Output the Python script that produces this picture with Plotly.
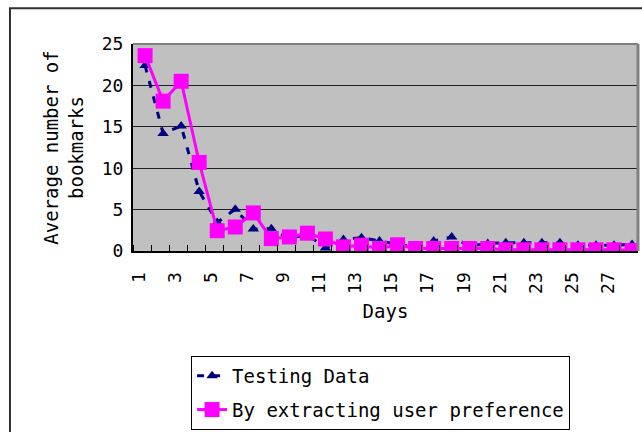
import plotly.graph_objects as go

days = list(range(1, 29))
testing_data = [22.4, 14.2, 15.1, 7.2, 3.45, 5.05, 2.65, 2.7, 1.5, 2.0,
                0.35, 1.4, 1.6, 1.2, 0.8, 0.5, 1.2, 1.7, 0.6, 0.9,
                1.0, 1.0, 1.0, 1.0, 0.7, 0.7, 0.7, 0.8]
user_pref = [23.6, 18.1, 20.5, 10.7, 2.45, 2.9, 4.6, 1.5, 1.7, 2.15,
             1.45, 0.5, 0.7, 0.3, 0.75, 0.3, 0.3, 0.3, 0.3, 0.3,
             0.15, 0.15, 0.15, 0.15, 0.15, 0.15, 0.15, 0.05]
x_tick_vals = list(range(1, 29, 2))
y_tick_vals = [0, 5, 10, 15, 20, 25]

FONT = "DejaVu Sans Mono"

fig = go.Figure()
fig.add_trace(go.Scatter(
    x=days, y=testing_data, name="Testing Data", mode="lines+markers",
    legendgroup="a",
    line=dict(color="#000080", width=3, dash="7px,9px"),
    marker=dict(symbol="triangle-up", size=10, color="#000080"),
))
fig.add_trace(go.Scatter(
    x=days, y=user_pref, name="By extracting user preference", mode="lines+markers",
    legendgroup="b",
    line=dict(color="#FF00FF", width=3),
    marker=dict(symbol="square", size=15, color="#FF00FF"),
))

fig.update_layout(
    width=642, height=432,
    margin=dict(l=133, r=4, t=44, b=180),
    paper_bgcolor="white", plot_bgcolor="#C0C0C0",
    font=dict(family=FONT, size=18, color="black"),
    legend=dict(
        x=0.115, y=-0.5, xanchor="left", yanchor="top",
        bordercolor="black", borderwidth=1, bgcolor="white",
        font=dict(family=FONT, size=19),
        traceorder="grouped", tracegroupgap=6,
    ),
    xaxis=dict(
        range=[0.33, 28.33], tickvals=x_tick_vals, ticktext=[str(v) for v in x_tick_vals],
        tickangle=-90, ticks="", showgrid=False, zeroline=False,
        showline=True, linecolor="black", linewidth=2,
        ticklabelshift=-6, ticklabelstandoff=12,
        minor=dict(ticks="inside", tick0=0.33, dtick=1, ticklen=6, tickcolor="black", tickwidth=1, showgrid=False),
        title=dict(text="Days", font=dict(size=19), standoff=12),
        tickfont=dict(size=18),
    ),
    yaxis=dict(
        range=[0, 25], tickvals=y_tick_vals, ticks="", showgrid=True,
        gridcolor="#202020", gridwidth=1, zeroline=False,
        showline=True, linecolor="black", linewidth=2,
        tickfont=dict(size=18), ticklabelstandoff=4,
        title=dict(text="Average number of<br>bookmarks", font=dict(size=19), standoff=13),
    ),
    shapes=[
        dict(type="line", xref="paper", yref="paper", x0=0, x1=1, y0=1, y1=1,
             line=dict(color="#808080", width=2)),
        dict(type="line", xref="paper", yref="paper", x0=1, x1=1, y0=0, y1=1,
             line=dict(color="#808080", width=3)),
        dict(type="rect", xref="paper", yref="paper", x0=-0.2436, x1=1.2, y0=-1.2, y1=1.173,
             line=dict(color="#303030", width=2), fillcolor="rgba(0,0,0,0)"),
    ],
)

fig.write_html("out.html", config={"displayModeBar": False},
               post_script="document.body.style.margin='0';document.body.style.overflow='hidden';")
